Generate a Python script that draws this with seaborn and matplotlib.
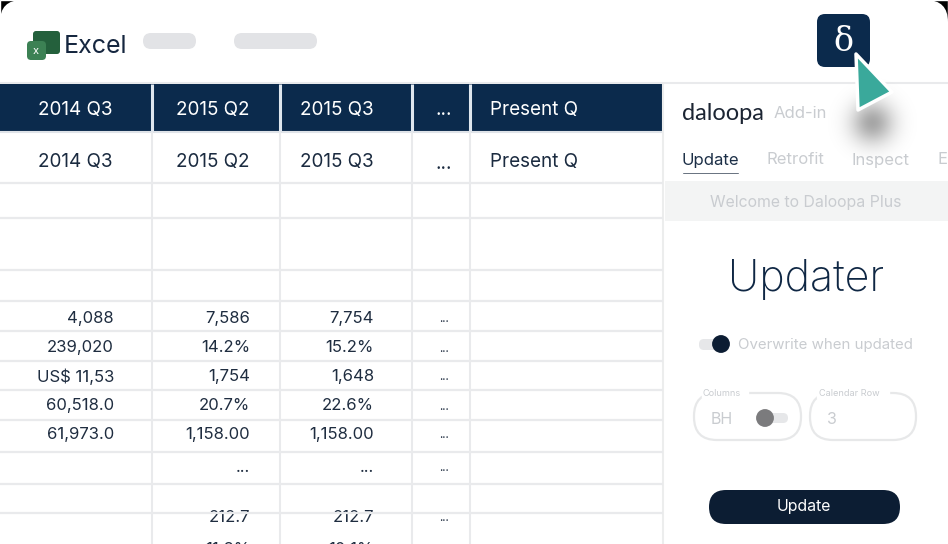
import numpy as np
import seaborn as sns
import matplotlib
matplotlib.use("Agg")
import matplotlib.pyplot as plt
from matplotlib.patches import FancyBboxPatch, Polygon, Rectangle

sns.set_style("white")
plt.rcParams["font.family"] = ["Inter", "DejaVu Sans"]

# table content
quarters = ["2014 Q3", "2015 Q2", "2015 Q3", "...", "Present Q"]
col_2014 = ["4,088", "239,020", "US$ 11,53", "60,518.0", "61,973.0"]
col_2015q2 = ["7,586", "14.2%", "1,754", "20.7%", "1,158.00", "...", "", "212.7", "11.8%"]
col_2015q3 = ["7,754", "15.2%", "1,648", "22.6%", "1,158.00", "...", "", "212.7", "10.1%"]
col_dots = ["...", "...", "...", "...", "...", "...", "", "..."]
tabs = ["Update", "Retrofit", "Inspect", "E"]

NAVY = "#0b2a4c"
DARK = "#0c1d33"
GRID = "#e9eaec"
GREY = "#c9ccd0"

col_edges = [152, 280, 412, 470, 663]
row_edges = [183, 218, 270, 301, 331, 361, 390, 420, 452, 484, 513]
row_text_y = [318.5, 347.5, 376.5, 405.5, 434.5, 467, 500, 517, 549]


def rbox(ax, x0, y0, x1, y1, r, fc, ec="none", lw=0, z=3):
    p = FancyBboxPatch((x0, y0), x1 - x0, y1 - y0, boxstyle=f"round,pad=0,rounding_size={r}",
                       fc=fc, ec=ec, lw=lw, zorder=z)
    ax.add_patch(p)


fig = plt.figure(figsize=(9.48, 5.44), dpi=100)
fig.patch.set_facecolor("black")
ax = fig.add_axes([0, 0, 1, 1])
ax.set_xlim(0, 948)
ax.set_ylim(544, 0)
ax.axis("off")

# white window with rounded top corners
ax.add_patch(Rectangle((0, 0), 948, 544, fc="black", zorder=0))
rbox(ax, 0, 0, 948, 600, 22, "white", z=1)
ax.add_patch(Rectangle((-2, 24), 952, 522, fc="white", zorder=1))

# top bar
rbox(ax, 33, 31, 60, 54, 3, "#24603c", z=3)
rbox(ax, 27, 41, 46, 60, 4, "#3c8154", z=4)
ax.text(36, 51, "x", color="white", fontsize=8, ha="center", va="center", zorder=5)
ax.text(64, 46.5, "Excel", color="#15263f", fontsize=18, va="center", zorder=5)
rbox(ax, 143, 33, 196, 49, 8, "#e2e3e6")
rbox(ax, 234, 33, 317, 49, 8, "#e2e3e6")
ax.hlines(82.5, 0, 948, color=GRID, lw=1.5, zorder=2)

# header rows
ax.add_patch(Rectangle((-2, 84), 665, 47, fc=NAVY, lw=0, zorder=2))
centers = [75, 213, 337, 444, 534]
for i, q in enumerate(quarters):
    ax.text(centers[i], 109.5 if q != "..." else 110, q, color="white", fontsize=13.6,
            ha="center", va="center", zorder=5)
    ax.text(centers[i], 162.5 if q != "..." else 164, q, color="#1b2b40", fontsize=13.6,
            ha="center", va="center", zorder=5)

# grid
ax.hlines(132, 0, 663, color="#dfe3e8", lw=1.5, zorder=2)
ax.hlines(row_edges, 0, 663, color=GRID, lw=1.6, zorder=6)
ax.vlines(col_edges[:4], 132, 544, color=GRID, lw=1.5, zorder=2)
ax.vlines(col_edges[:4], 84, 131, color="#dfe6ee", lw=2.2, zorder=4)
ax.vlines(663, 84, 544, color="#eceded", lw=1.5, zorder=2)

# values
for y, t in zip(row_text_y, col_2014):
    ax.text(114, y, t, color="#1f2d40", fontsize=12, ha="right", va="center", zorder=5)
for y, t in zip(row_text_y, col_2015q2):
    ax.text(250, y, t, color="#1f2d40", fontsize=12, ha="right", va="center", zorder=5)
for y, t in zip(row_text_y, col_2015q3):
    ax.text(374, y, t, color="#1f2d40", fontsize=12, ha="right", va="center", zorder=5)
for y, t in zip(row_text_y, col_dots):
    ax.text(444, y + 1, t, color="#1f2d40", fontsize=8.5, ha="center", va="center", zorder=5)

# add-in panel
ax.text(682, 114, "daloopa", color="#1c2533", fontsize=17, va="center", zorder=5, family="Lato")
ax.text(774, 114, "Add-in", color=GREY, fontsize=12, va="center", zorder=5)
for x, t, c in zip([682, 767, 852, 938], tabs, ["#1c2f47", GREY, GREY, GREY]):
    ax.text(x, 160, t, color=c, fontsize=12, va="center", zorder=5)
ax.add_patch(Rectangle((682, 172), 57, 2, fc=DARK, zorder=5))
ax.add_patch(Rectangle((665, 181), 285, 40, fc="#f3f4f4", lw=0, zorder=2))
ax.text(806, 202, "Welcome to Daloopa Plus", color=GREY, fontsize=11.4, ha="center", va="center", zorder=5)
ax.text(806, 279, "Updater", color="#0f2744", fontsize=31, fontweight="light",
        ha="center", va="center", zorder=5)

rbox(ax, 699, 339, 722, 350, 5, "#e6e7e9")
ax.text(738, 345, "Overwrite when updated", color=GREY, fontsize=10.8, va="center", zorder=5)
rbox(ax, 694, 393, 801, 440, 23, "white", ec="#e7e8e9", lw=1.6)
rbox(ax, 810, 393, 916, 440, 23, "white", ec="#e7e8e9", lw=1.6)
ax.add_patch(Rectangle((702, 386), 46, 12, fc="white", zorder=4))
ax.add_patch(Rectangle((817, 386), 72, 12, fc="white", zorder=4))
ax.text(703, 393, "Columns", color=GREY, fontsize=6.6, va="center", zorder=5)
ax.text(819, 393, "Calendar Row", color=GREY, fontsize=6.6, va="center", zorder=5)
ax.text(711, 419, "BH", color=GREY, fontsize=11.5, va="center", zorder=5)
ax.text(832, 419, "3", color=GREY, fontsize=11.5, ha="center", va="center", zorder=5)
rbox(ax, 765, 413, 788, 423, 5, "#e6e7e9")
rbox(ax, 709, 490, 900, 524, 17, DARK)
ax.text(804, 507, "Update", color="white", fontsize=11.4, ha="center", va="center", zorder=5)

# toggle knobs
sns.scatterplot(x=[721, 765], y=[344, 418], hue=["on", "off"], palette={"on": DARK, "off": "#7b7b7d"},
                s=165, legend=False, linewidth=0, zorder=6, ax=ax)

# delta button and cursor with soft shadow
rbox(ax, 817, 14, 870, 67, 8, NAVY, z=5)
ax.text(843, 42, "δ", color="white", fontsize=24, ha="center", va="center", zorder=6, family="DejaVu Serif")
yy, xx = np.mgrid[70:160, 820:920]
shadow = np.exp(-(((xx - 872) / 15.0) ** 2 + ((yy - 122) / 15.0) ** 2) / 2.0)
rgba = np.zeros(shadow.shape + (4,))
rgba[..., 3] = shadow * 0.35
ax.imshow(rgba, extent=(820, 920, 160, 70), zorder=6, interpolation="bilinear")
ax.set_xlim(0, 948)
ax.set_ylim(544, 0)
ax.set_aspect("auto")
ax.add_patch(Polygon([(856, 54), (892, 92), (858, 110)], closed=True, fc="#3aa99b", ec="white",
                     lw=2.5, joinstyle="round", zorder=7))

fig.savefig("out.png", dpi=100, facecolor="black")
